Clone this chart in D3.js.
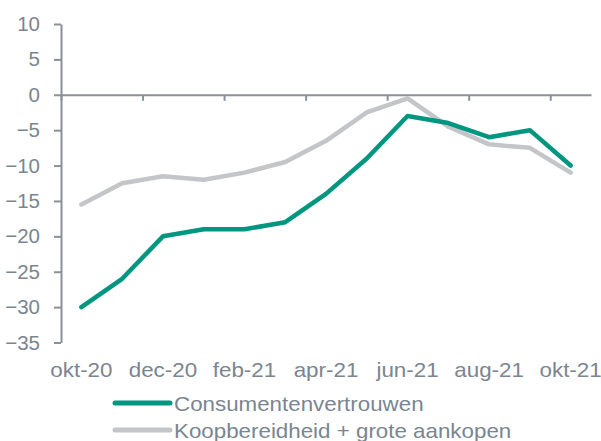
<!DOCTYPE html>
<html>
<head>
<meta charset="utf-8">
<script src="https://cdn.jsdelivr.net/npm/d3@7"></script>
<style>
  body { margin: 0; background: #fff; overflow: hidden; }
  svg { display: block; }
  #chart text { font-family: "Liberation Sans", Arial, sans-serif; fill: #7b8590; }
</style>
</head>
<body>
<div id="chart"></div>
<script>
// Maanden (okt-20 t/m okt-21)
const months = ["okt-20", "nov-20", "dec-20", "jan-21", "feb-21", "mrt-21", "apr-21",
                "mei-21", "jun-21", "jul-21", "aug-21", "sep-21", "okt-21"];
const consumentenvertrouwen = [-30, -26, -20, -19, -19, -18, -14, -9, -3, -4, -6, -5, -10];
const koopbereidheid = [-15.5, -12.5, -11.5, -12, -11, -9.5, -6.5, -2.5, -0.5, -4.5, -7, -7.5, -11];
const yTicks = [10, 5, 0, -5, -10, -15, -20, -25, -30, -35];
const seriesNames = ["Consumentenvertrouwen", "Koopbereidheid + grote aankopen"];
const seriesColors = ["#00967f", "#c3c5c9"];

const width = 601, height = 441;
const margin = { top: 24, right: 10, bottom: 98.5, left: 61 };
const innerWidth = width - margin.left - margin.right;
const innerHeight = height - margin.top - margin.bottom;
const axisColor = "#8a9199";

const svg = d3.select("#chart")
    .append("svg")
    .attr("width", width)
    .attr("height", height);

const g = svg.append("g")
    .attr("transform", `translate(${margin.left},${margin.top})`);

// Scales
const x = d3.scaleBand()
    .domain(months)
    .range([0, innerWidth])
    .padding(0);

const xIdx = d3.scaleLinear()
    .domain([0, months.length])
    .range([0, innerWidth]);

const y = d3.scaleLinear()
    .domain([-35, 10])
    .range([innerHeight, 0]);

// Y axis
const yAxis = g.append("g")
    .call(d3.axisLeft(y).tickValues(yTicks).tickSize(7).tickSizeOuter(0).tickPadding(14));
yAxis.select(".domain").attr("stroke", axisColor).attr("stroke-width", 2);
yAxis.selectAll(".tick line").attr("stroke", axisColor).attr("stroke-width", 2);
yAxis.selectAll(".tick text").attr("font-size", "20.5px");

// X axis op de nullijn, streepjes om de twee maanden
const xAxis = g.append("g")
    .attr("transform", `translate(0,${y(0)})`)
    .call(d3.axisBottom(xIdx)
        .tickValues(d3.range(0, months.length, 2))
        .tickFormat("")
        .tickSize(6)
        .tickSizeOuter(0));
xAxis.select(".domain").attr("stroke", axisColor).attr("stroke-width", 2);
xAxis.selectAll(".tick line").attr("stroke", axisColor).attr("stroke-width", 2);

// Maandlabels onderaan (iets breed uitgerekt zoals in het origineel)
g.selectAll(".month-label")
    .data(months.filter((d, i) => i % 2 === 0))
    .enter()
    .append("text")
    .attr("class", "month-label")
    .attr("transform", d => `translate(${x(d) + x.bandwidth() / 2},${innerHeight + 34.5}) scale(1.12,1)`)
    .attr("text-anchor", "middle")
    .attr("font-size", "20px")
    .text(d => d);

// Lines
const line = d3.line()
    .x((d, i) => x(months[i]) + x.bandwidth() / 2)
    .y(d => y(d));

[koopbereidheid, consumentenvertrouwen].forEach((values, k) => {
    const idx = k === 0 ? 1 : 0;
    g.append("path")
        .datum(values)
        .attr("fill", "none")
        .attr("stroke", seriesColors[idx])
        .attr("stroke-width", 4.5)
        .attr("stroke-linejoin", "round")
        .attr("stroke-linecap", "round")
        .attr("d", line);
});

// Legend
const legend = svg.append("g")
    .attr("transform", "translate(115,403)");

seriesNames.forEach((name, i) => {
    const row = legend.append("g")
        .attr("transform", `translate(0,${i * 27})`);
    row.append("line")
        .attr("x1", 0).attr("x2", 55)
        .attr("y1", 0).attr("y2", 0)
        .attr("stroke", seriesColors[i])
        .attr("stroke-width", 5)
        .attr("stroke-linecap", "round");
    row.append("text")
        .attr("transform", "translate(59,8) scale(1.09,1)")
        .attr("font-size", "20.5px")
        .text(name);
});
</script>
</body>
</html>
